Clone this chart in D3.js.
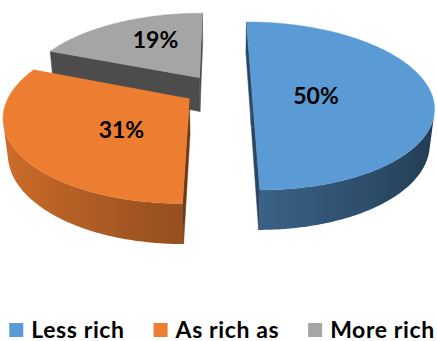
<!DOCTYPE html>
<html>
<head>
<meta charset="utf-8">
<script src="https://cdn.jsdelivr.net/npm/d3@7"></script>
<style>
  html, body { margin: 0; padding: 0; background: #fff; }
  svg { display: block; }
  text { font-family: Lato, "Open Sans", sans-serif; font-weight: 700; fill: #000; }
</style>
</head>
<body>
<script>
// ---- data ----
const categories  = ["Less rich", "As rich as", "More rich"];
const shares      = [50, 31, 19];
const shareLabels = ["50%", "31%", "19%"];
const colors      = ["#5B9BD5", "#ED7D31", "#A5A5A5"];

// ---- layout ----
const W = 437, H = 341;
const svg = d3.select("body").append("svg").attr("width", W).attr("height", H);
const defs = svg.append("defs");

// perspective camera looking down on a unit-radius pie
const tilt = 27.07 * Math.PI / 180, sinT = Math.sin(tilt), cosT = Math.cos(tilt);
const camDist = 4.69, focal = 835, cx = 218, cy = 90;
const thickness = 0.223, explode = 0.19;
const cam = [0, -camDist * cosT, camDist * sinT];

function project(u, v, z) {
  const yp = v * sinT + z * cosT;
  const w = camDist + v * cosT - z * sinT;
  return [cx + focal * u / w, cy - focal * yp / w];
}
function facing(n, p) {
  return n[0] * (cam[0] - p[0]) + n[1] * (cam[1] - p[1]) + n[2] * (cam[2] - p[2]) > 0;
}
function shade(c, f) {
  const r = d3.rgb(c);
  return d3.rgb(r.r * f, r.g * f, r.b * f).formatHex();
}
const line = d3.line().curve(d3.curveLinearClosed);

// label placement inside each slice: [radius fraction, angle in degrees]
const labelPlacement = [[0.36, 101], [0.48, 225], [0.62, 332]];

const arcs = d3.pie().sort(null).value(d => d)(shares).map((a, i) => {
  const m = (a.startAngle + a.endAngle) / 2;
  return {
    i, a0: a.startAngle, a1: a.endAngle,
    cu: explode * Math.sin(m), cv: explode * Math.cos(m)
  };
});

// paint farthest slice first
const order = arcs.slice().sort((p, q) => q.cv - p.cv);
const gPie = svg.append("g");

order.forEach(s => {
  const g = gPie.append("g");
  const base = colors[s.i];
  const edge = (t, r, z) => project(s.cu + r * Math.sin(t), s.cv + r * Math.cos(t), z);

  // visible stretch of the curved outer wall
  const step = Math.PI / 360;
  const n = Math.ceil((s.a1 - s.a0) / step);
  const vis = [];
  for (let k = 0; k <= n; k++) {
    const t = s.a0 + (s.a1 - s.a0) * k / n;
    const nrm = [Math.sin(t), Math.cos(t), 0];
    const p = [s.cu + Math.sin(t), s.cv + Math.cos(t), -thickness / 2];
    if (facing(nrm, p)) vis.push(t);
  }
  if (vis.length > 1) {
    const topPts = vis.map(t => edge(t, 1, 0));
    const botPts = vis.map(t => edge(t, 1, -thickness)).reverse();
    const xs = topPts.map(p => p[0]);
    const x1 = d3.min(xs), x2 = d3.max(xs);
    const id = "wall" + s.i;
    const grad = defs.append("linearGradient").attr("id", id)
      .attr("gradientUnits", "userSpaceOnUse")
      .attr("x1", x1).attr("x2", x2).attr("y1", 0).attr("y2", 0);
    vis.map((t, k) => ({ o: (topPts[k][0] - x1) / (x2 - x1 || 1), c: shade(base, 0.63 - 0.26 * Math.sin(t)) }))
      .sort((a, b) => a.o - b.o)
      .filter((d, k) => k % 6 === 0)
      .forEach(d => grad.append("stop").attr("offset", d.o).attr("stop-color", d.c));
    g.append("path").attr("d", line(topPts.concat(botPts)))
      .attr("fill", `url(#${id})`);
  }

  // flat cut faces along the two radii
  [[s.a0, s.a0 - Math.PI / 2], [s.a1, s.a1 + Math.PI / 2]].forEach(([t, tn]) => {
    const nrm = [Math.sin(tn), Math.cos(tn), 0];
    const p = [s.cu + 0.5 * Math.sin(t), s.cv + 0.5 * Math.cos(t), -thickness / 2];
    if (!facing(nrm, p)) return;
    const col = shade(base, 0.46);
    g.append("path")
      .attr("d", line([edge(t, 0, 0), edge(t, 1, 0), edge(t, 1, -thickness), edge(t, 0, -thickness)]))
      .attr("fill", col).attr("stroke", col).attr("stroke-width", 0.5);
  });

  // top face
  const top = [edge(0, 0, 0)];
  for (let k = 0; k <= n; k++) top.push(edge(s.a0 + (s.a1 - s.a0) * k / n, 1, 0));
  g.append("path").attr("d", line(top)).attr("fill", base).attr("stroke", base).attr("stroke-width", 0.4);
});

// value labels
arcs.forEach(s => {
  const [r, deg] = labelPlacement[s.i];
  const t = deg * Math.PI / 180;
  const [x, y] = project(s.cu + r * Math.sin(t), s.cv + r * Math.cos(t), 0);
  svg.append("text")
    .attr("x", x).attr("y", y).attr("dy", "0.36em")
    .attr("text-anchor", "middle")
    .style("font-size", "23px")
    .text(shareLabels[s.i]);
});

// legend
const legend = svg.append("g");
const items = categories.map((c, i) => {
  const g = legend.append("g");
  g.append("rect").attr("x", 0).attr("y", 323).attr("width", 14).attr("height", 14).attr("fill", colors[i]);
  const t = g.append("text").attr("x", 22).attr("y", 337.5)
    .style("font-size", "23px").style("letter-spacing", "0.6px").text(c);
  return { g, w: 22 + t.node().getComputedTextLength() };
});
const gap = 29;
const total = d3.sum(items, d => d.w) + gap * (items.length - 1);
let x0 = 222 - total / 2;
items.forEach(it => { it.g.attr("transform", `translate(${x0},0)`); x0 += it.w + gap; });
</script>
</body>
</html>
